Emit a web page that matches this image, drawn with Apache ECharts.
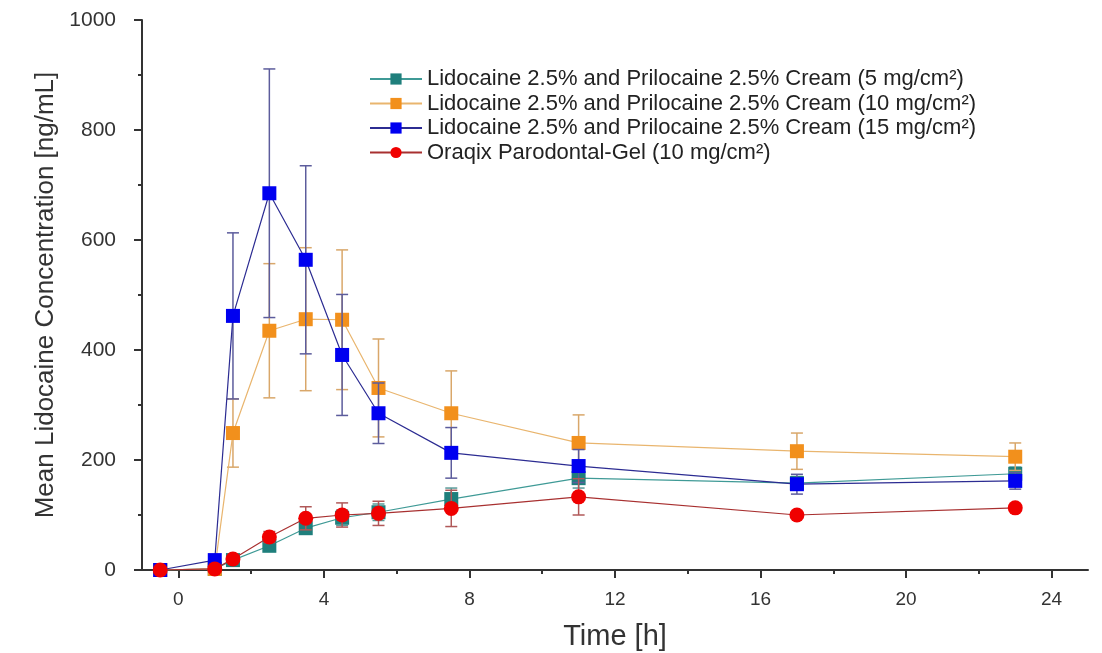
<!DOCTYPE html>
<html>
<head>
<meta charset="utf-8">
<script src="https://cdn.jsdelivr.net/npm/echarts@6/dist/echarts.min.js"></script>
<style>
  html, body { margin: 0; padding: 0; background: #fff; }
  #chart { width: 1102px; height: 653px; }
</style>
</head>
<body>
<div id="chart"></div>
<script>
// Sampling times (h)
const times = [-0.5, 1, 1.5, 2.5, 3.5, 4.5, 5.5, 7.5, 11, 17, 23];

// Mean lidocaine concentration (ng/mL) and SD for each formulation
const cream5 = [0, 2, 18, 44, 76, 95, 105, 129, 167, 158, 175];
const cream5Err = [0, 0, 4, 8, 10, 14, 15, 20, 18, 12, 12];
const cream10 = [0, 2, 249, 435, 456, 455, 331, 285, 231, 216, 206];
const cream10Err = [0, 0, 62, 122, 130, 127, 89, 77, 51, 33, 25];
const cream15 = [0, 18, 462, 685, 564, 391, 285, 213, 189, 156, 162];
const cream15Err = [0, 0, 151, 226, 171, 110, 55, 46, 30, 18, 15];
const oraqix = [0, 2, 20, 60, 94, 100, 103, 112, 133, 100, 113];
const oraqixErr = [0, 0, 4, 10, 21, 22, 22, 33, 33, 6, 6];

// Tick labels
const xMajorTicks = [0, 4, 8, 12, 16, 20, 24];
const xMinorTicks = [2, 6, 10, 14, 18, 22];

const names = [
  'Lidocaine 2.5% and Prilocaine 2.5% Cream (5 mg/cm²)',
  'Lidocaine 2.5% and Prilocaine 2.5% Cream (10 mg/cm²)',
  'Lidocaine 2.5% and Prilocaine 2.5% Cream (15 mg/cm²)',
  'Oraqix Parodontal-Gel (10 mg/cm²)'
];

const styles = [
  { marker: '#1f7f7c', line: '#3f9a96', bar: '#5a9a98', symbol: 'rect' },
  { marker: '#f2901c', line: '#e9b56e', bar: '#d9a76a', symbol: 'rect' },
  { marker: '#0000f0', line: '#2c2c92', bar: '#5c5c9c', symbol: 'rect' },
  { marker: '#f00000', line: '#a83030', bar: '#b05858', symbol: 'circle' }
];

const means = [cream5, cream10, cream15, oraqix];
const errs = [cream5Err, cream10Err, cream15Err, oraqixErr];

// Vertical mean ± SD bars with caps
function errorBarSeries(idx) {
  return {
    type: 'custom',
    xAxisIndex: 0,
    yAxisIndex: 0,
    z: 2 + idx * 3,
    silent: true,
    data: times.map((t, i) => [t, means[idx][i], errs[idx][i]]),
    renderItem: function (params, api) {
      const x = api.value(0), y = api.value(1), e = api.value(2);
      if (!e) return null;
      const top = api.coord([x, y + e]);
      const bot = api.coord([x, y - e]);
      const half = 6;
      const st = { stroke: styles[idx].bar, lineWidth: 1.5 };
      return {
        type: 'group',
        children: [
          { type: 'line', shape: { x1: top[0], y1: top[1], x2: bot[0], y2: bot[1] }, style: st },
          { type: 'line', shape: { x1: top[0] - half, y1: top[1], x2: top[0] + half, y2: top[1] }, style: st },
          { type: 'line', shape: { x1: bot[0] - half, y1: bot[1], x2: bot[0] + half, y2: bot[1] }, style: st }
        ]
      };
    }
  };
}

function lineSeries(idx) {
  return {
    name: names[idx],
    type: 'line',
    xAxisIndex: 0,
    yAxisIndex: 0,
    z: 3 + idx * 3,
    data: times.map((t, i) => [t, means[idx][i]]),
    symbol: styles[idx].symbol,
    symbolSize: styles[idx].symbol === 'circle' ? 15 : 14,
    showAllSymbol: true,
    lineStyle: { color: styles[idx].line, width: 1.2 },
    itemStyle: { color: styles[idx].marker, borderWidth: 0 },
    emphasis: { disabled: true }
  };
}

const series = [];
for (let i = 0; i < 4; i++) {
  series.push(errorBarSeries(i));
  series.push(lineSeries(i));
}

const axisColor = '#333';
const sans = 'Liberation Sans, Arial, sans-serif';
const narrow = 'Liberation Sans Narrow, Liberation Sans, Arial, sans-serif';

const chart = echarts.init(document.getElementById('chart'), null, { renderer: 'canvas' });
chart.setOption({
  animation: false,
  backgroundColor: '#fff',
  grid: { left: 142, right: 14, top: 20, bottom: 83, containLabel: false, outerBoundsMode: 'none' },
  legend: {
    data: names,
    orient: 'vertical',
    left: 364,
    top: 63,
    itemWidth: 52,
    itemHeight: 14,
    itemGap: 2.5,
    textStyle: { color: '#222', fontFamily: sans, fontSize: 22 }
  },
  xAxis: [
    {
      type: 'value',
      min: -1,
      max: 25,
      name: 'Time [h]',
      nameLocation: 'middle',
      nameGap: 67,
      nameTextStyle: { color: '#333', fontFamily: narrow, fontSize: 29, verticalAlign: 'middle' },
      axisLine: { show: true, onZero: false, lineStyle: { color: axisColor, width: 2 } },
      axisTick: { show: true, inside: false, length: 8, customValues: xMajorTicks, lineStyle: { color: axisColor, width: 2 } },
      axisLabel: { margin: 20, customValues: xMajorTicks, color: '#333', fontFamily: sans, fontSize: 19 },
      splitLine: { show: false }
    },
    {
      type: 'value',
      min: -1,
      max: 25,
      position: 'bottom',
      axisLine: { show: false },
      axisTick: { show: true, inside: false, length: 4, customValues: xMinorTicks, lineStyle: { color: axisColor, width: 2 } },
      axisLabel: { show: false, customValues: xMinorTicks },
      splitLine: { show: false }
    }
  ],
  yAxis: [
    {
      type: 'value',
      min: 0,
      max: 1000,
      interval: 200,
      name: 'Mean Lidocaine Concentration [ng/mL]',
      nameLocation: 'middle',
      nameGap: 96,
      nameTextStyle: { color: '#333', fontFamily: sans, fontSize: 26, verticalAlign: 'middle' },
      axisLine: { show: true, onZero: false, lineStyle: { color: axisColor, width: 2 } },
      axisTick: { show: true, inside: false, length: 8, lineStyle: { color: axisColor, width: 2 } },
      minorTick: { show: true, splitNumber: 2, length: 4, lineStyle: { color: axisColor, width: 2 } },
      axisLabel: { margin: 26, color: '#333', fontFamily: sans, fontSize: 21, formatter: v => String(v) },
      splitLine: { show: false },
      minorSplitLine: { show: false }
    }
  ],
  series: series
});
</script>
</body>
</html>
